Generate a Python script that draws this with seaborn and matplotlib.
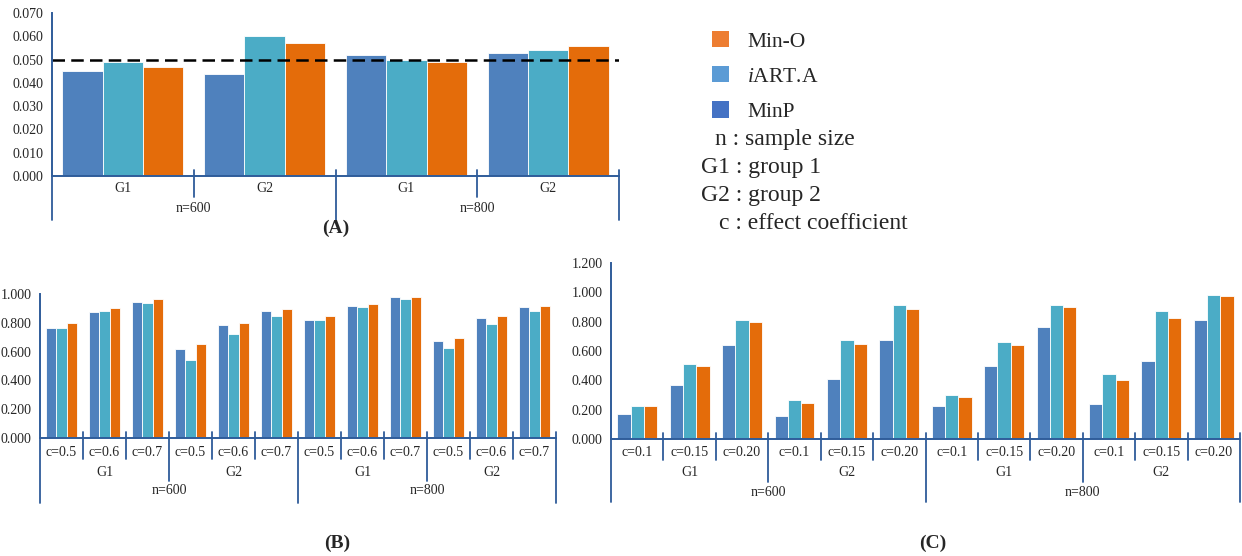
import matplotlib
matplotlib.use('Agg')
from matplotlib import pyplot as plt
from matplotlib.patches import Patch
from matplotlib.ticker import FormatStrFormatter
import pandas as pd
import seaborn as sns

# methods and colours
methods = ['MinP', 'iART.A', 'Min-O']
bar_colors = {'MinP': '#4F81BD', 'iART.A': '#4BACC6', 'Min-O': '#E46C0A'}
legend_colors = {'Min-O': '#ED7D31', 'iART.A': '#5B9BD5', 'MinP': '#4472C4'}

# (A) type I error
a_n = ['n=600', 'n=600', 'n=800', 'n=800']
a_g = ['G1', 'G2', 'G1', 'G2']
a_minp = [0.045, 0.044, 0.052, 0.053]
a_iart = [0.049, 0.060, 0.050, 0.054]
a_mino = [0.047, 0.057, 0.049, 0.056]

# (B) power, c = 0.5 / 0.6 / 0.7
b_n = ['n=600'] * 6 + ['n=800'] * 6
b_g = (['G1'] * 3 + ['G2'] * 3) * 2
b_c = ['c=0.5', 'c=0.6', 'c=0.7'] * 4
b_minp = [0.764, 0.877, 0.944, 0.619, 0.787, 0.882, 0.822, 0.919, 0.977, 0.677, 0.836, 0.907]
b_iart = [0.764, 0.882, 0.935, 0.543, 0.723, 0.845, 0.822, 0.907, 0.963, 0.626, 0.792, 0.882]
b_mino = [0.797, 0.905, 0.963, 0.653, 0.797, 0.898, 0.845, 0.931, 0.977, 0.697, 0.849, 0.919]

# (C) power, c = 0.1 / 0.15 / 0.20
c_n = ['n=600'] * 6 + ['n=800'] * 6
c_g = (['G1'] * 3 + ['G2'] * 3) * 2
c_c = ['c=0.1', 'c=0.15', 'c=0.20'] * 4
c_minp = [0.169, 0.371, 0.638, 0.160, 0.411, 0.672, 0.227, 0.499, 0.762, 0.236, 0.535, 0.813]
c_iart = [0.222, 0.510, 0.813, 0.263, 0.674, 0.915, 0.297, 0.661, 0.915, 0.443, 0.872, 0.984]
c_mino = [0.227, 0.501, 0.798, 0.243, 0.645, 0.888, 0.283, 0.638, 0.899, 0.402, 0.822, 0.973]

sns.set_style('white')
plt.rcParams['font.family'] = ['Liberation Serif', 'DejaVu Serif']
plt.rcParams['mathtext.fontset'] = 'custom'
plt.rcParams['mathtext.rm'] = 'Liberation Serif'
plt.rcParams['mathtext.it'] = 'Liberation Serif:italic'

W, H = 1242, 556
fig = plt.figure(figsize=(W / 100, H / 100), dpi=100)
axis_col = '#2F5C9A'


def long_df(series):
    rows = []
    for m, vals in zip(methods, series):
        for i, v in enumerate(vals):
            rows.append({'slot': str(i), 'method': m, 'value': v})
    return pd.DataFrame(rows)


def px_box(left, right, top, bottom):
    return [left / W, 1 - bottom / H, (right - left) / W, (bottom - top) / H]


def draw_levels(ax, levels, label_dy, sep_dy, top_dy=-6):
    # nested category labels under the x axis, with separator lines
    n = len(levels[0])
    ax_h = ax.get_position().height * H
    tr = ax.get_xaxis_transform()
    for k, labels in enumerate(levels):
        keys = [tuple(lv[i] for lv in levels[k:]) for i in range(n)]
        start = 0
        for i in range(1, n + 1):
            if i == n or keys[i] != keys[start]:
                ax.text((start + i - 1) / 2, -label_dy[k] / ax_h, labels[start],
                        transform=tr, ha='center', va='center', fontsize=10,
                        clip_on=False)
                start = i
    for b in range(n + 1):
        if b in (0, n):
            k = len(levels) - 1
        else:
            k = max(j for j in range(len(levels))
                    if tuple(lv[b - 1] for lv in levels[j:]) != tuple(lv[b] for lv in levels[j:]))
        y0 = 0 if b == 0 else -top_dy / ax_h
        ax.plot([b - 0.5, b - 0.5], [y0, -sep_dy[k] / ax_h], transform=tr,
                color=axis_col, lw=1.3, clip_on=False)


def panel(box, series, width, ymax, step, levels, label_dy, sep_dy):
    ax = fig.add_axes(box)
    df = long_df(series)
    order = [str(i) for i in range(len(series[0]))]
    sns.barplot(data=df, x='slot', y='value', hue='method', order=order,
                hue_order=methods, palette=bar_colors, width=width, saturation=1,
                edgecolor='white', linewidth=0.6, legend=False, ax=ax)
    ax.set_xlim(-0.5, len(order) - 0.5)
    ax.set_ylim(0, ymax)
    ax.set_yticks([i * step for i in range(int(round(ymax / step)) + 1)])
    ax.yaxis.set_major_formatter(FormatStrFormatter('%.3f'))
    ax.set_xlabel('')
    ax.set_ylabel('')
    for s in ['top', 'right']:
        ax.spines[s].set_visible(False)
    for s in ['left', 'bottom']:
        ax.spines[s].set_color(axis_col)
        ax.spines[s].set_linewidth(1.4)
    ax.tick_params(axis='x', direction='in', length=3, color=axis_col, labelbottom=False)
    ax.tick_params(axis='y', direction='in', length=4, color=axis_col, labelsize=10, pad=6)
    draw_levels(ax, levels, label_dy, sep_dy)
    return ax


ax_a = panel(px_box(52, 619, 13, 176), [a_minp, a_iart, a_mino], 0.853, 0.07, 0.01,
             [a_g, a_n], [12, 33], [21, 44])
ax_a.axhline(0.05, color='black', ls=(0, (5, 2.5)), lw=1.8)

ax_b = panel(px_box(40, 556, 294, 438), [b_minp, b_iart, b_mino], 0.74, 1.0, 0.2,
             [b_c, b_g, b_n], [14, 34, 53], [21, 43, 65])

ax_c = panel(px_box(611, 1240, 263, 439), [c_minp, c_iart, c_mino], 0.76, 1.2, 0.2,
             [c_c, c_g, c_n], [13, 33, 53], [21, 43, 63])

# panel labels
for txt, x, y in [('(A)', 336, 228), ('(B)', 337, 543), ('(C)', 933, 543)]:
    fig.text(x / W, 1 - y / H, txt, ha='center', va='center', fontsize=14, fontweight='bold')

# legend
leg_names = ['Min-O', 'iART.A', 'MinP']
leg_labels = ['Min-O', r'$\it{i}$ART.A', 'MinP']
handles = [Patch(facecolor=legend_colors[m], edgecolor='none') for m in leg_names]
fig.legend(handles, leg_labels, loc='upper left', bbox_to_anchor=(712 / W, 1 - 31 / H),
           frameon=False, fontsize=15.5, handlelength=0.78, handleheight=0.78,
           handletextpad=0.85, labelspacing=0.68, borderpad=0, borderaxespad=0)

notes = [('n : sample size', 715, 139), ('G1 : group 1', 701, 168),
         ('G2 : group 2', 701, 196), ('c : effect coefficient', 719, 224)]
for txt, x, y in notes:
    fig.text(x / W, 1 - y / H, txt, ha='left', va='center', fontsize=17)

fig.savefig('out.png', dpi=100)
